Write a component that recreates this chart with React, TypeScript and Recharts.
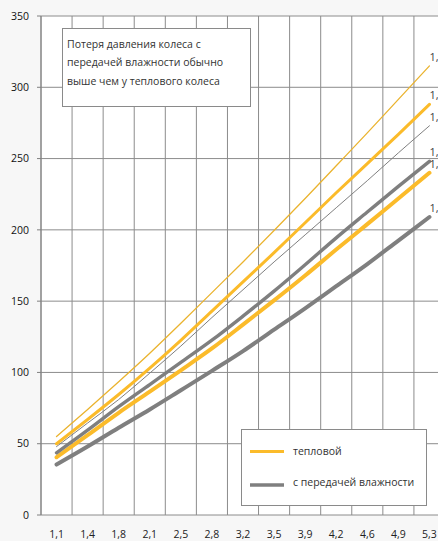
import React from 'react';
import { LineChart, Line, XAxis, YAxis, CartesianGrid } from 'recharts';

// x categories (label shown under each point)
const xLabels = ['1,1', '1,4', '1,8', '2,1', '2,5', '2,8', '3,2', '3,5', '3,9', '4,2', '4,6', '4,9', '5,3'];
const yTicks = [0, 50, 100, 150, 200, 250, 300, 350];

// pressure loss curves
const heatThin = [55, 74, 93.5, 113.5, 134.5, 156, 177.5, 199.5, 222, 245, 268, 291.5, 315];
const heatMain = [50, 67, 84.5, 103, 122.5, 143, 163.5, 184, 205, 226, 246.5, 267, 288];
const moistThin = [48, 64.5, 81, 99.5, 118.5, 138.5, 158, 177.5, 196.5, 215.5, 234.5, 254, 273];
const moistMain = [43.6, 59.5, 76, 91.5, 107, 122.6, 139.5, 157, 175.5, 194.4, 212.5, 230.5, 248];
const heatLow = [40.5, 56, 71.7, 86.5, 101.5, 116.8, 133.5, 150.5, 168, 186.2, 204, 222, 240];
const moistLow = [35.4, 48, 61.2, 74, 87.5, 101.1, 115, 130, 145, 160.5, 176, 192.5, 209];

// labels at the end of each curve (cut by the right edge)
const endLabels = ['1,6', '1,4', '1,3', '1,2', '1,2', '1,0'];

const ORANGE = '#fbbb2a';
const GRAY = '#7f7f7f';
const FONT = '"Open Sans", "DejaVu Sans", sans-serif';

const data = xLabels.map((label, i) => ({
  n: i + 1,
  label,
  heatThin: heatThin[i],
  heatMain: heatMain[i],
  moistThin: moistThin[i],
  moistMain: moistMain[i],
  heatLow: heatLow[i],
  moistLow: moistLow[i],
}));

const posTicks = xLabels.map((_, i) => i + 1);
const gridTicks = [...xLabels.map((_, i) => i + 0.5), xLabels.length + 0.5];
const domain: [number, number] = [0.5, xLabels.length + 0.5];

const series = [
  { key: 'moistLow', color: GRAY, width: 4 },
  { key: 'heatLow', color: ORANGE, width: 4 },
  { key: 'moistMain', color: GRAY, width: 3.4 },
  { key: 'moistThin', color: GRAY, width: 1 },
  { key: 'heatMain', color: ORANGE, width: 3 },
  { key: 'heatThin', color: '#eab32e', width: 1.3 },
];
const endLabelOf: Record<string, string> = {
  heatThin: endLabels[0],
  heatMain: endLabels[1],
  moistThin: endLabels[2],
  moistMain: endLabels[3],
  heatLow: endLabels[4],
  moistLow: endLabels[5],
};

const endLabel = (text: string) => (props: any) => {
  if (props.index !== xLabels.length - 1) return null;
  return (
    <text key={`end-${text}-${props.y}`} x={props.x} y={props.y - 5} fontSize={11} fill="#404040" fontFamily={FONT}>
      {text}
    </text>
  );
};

export default function App() {
  return (
    <div
      style={{
        position: 'absolute',
        left: 0,
        top: 0,
        width: 438,
        height: 541,
        overflow: 'hidden',
        background: '#f7f7f7',
        fontFamily: FONT,
      }}
    >
      <LineChart width={460} height={541} data={data} margin={{ top: 16, right: 15, left: 0, bottom: 0 }}>
        <CartesianGrid xAxisId="g" stroke="#8c8c8c" fill="#ffffff" />
        <XAxis
          xAxisId="g"
          type="number"
          dataKey="n"
          domain={domain}
          ticks={gridTicks}
          tickFormatter={() => ''}
          height={0}
          tickSize={5}
          tickLine={{ stroke: '#a6a6a6' }}
          axisLine={{ stroke: '#808080' }}
          interval={0}
        />
        <XAxis
          xAxisId="l"
          type="number"
          dataKey="n"
          domain={domain}
          ticks={posTicks}
          tickFormatter={(v: number) => xLabels[v - 1]}
          height={26}
          tickSize={0}
          tickMargin={16}
          axisLine={false}
          tickLine={false}
          interval={0}
          tick={{ fontSize: 10.5, fill: '#222', fontFamily: FONT }}
        />
        <YAxis
          type="number"
          domain={[0, 350]}
          ticks={yTicks}
          width={41}
          tickSize={4}
          tickMargin={8}
          axisLine={{ stroke: '#808080' }}
          tickLine={{ stroke: '#808080' }}
          interval={0}
          tick={{ fontSize: 10.5, fill: '#111', fontFamily: FONT }}
        />
        {series.map(s => (
          <Line
            key={s.key}
            xAxisId="l"
            type="monotone"
            dataKey={s.key}
            stroke={s.color}
            strokeWidth={s.width}
            strokeLinecap="round"
            dot={false}
            activeDot={false}
            isAnimationActive={false}
            label={endLabel(endLabelOf[s.key])}
          />
        ))}
      </LineChart>

      <div
        style={{
          position: 'absolute',
          left: 62,
          top: 28,
          width: 183,
          height: 71,
          border: '1px solid #8a8a8a',
          background: '#fff',
          padding: '6px 0 0 4px',
          boxSizing: 'content-box',
          fontSize: 10.5,
          lineHeight: '18.3px',
          color: '#333',
        }}
      >
        Потеря давления колеса с
        <br />
        передачей влажности обычно
        <br />
        выше чем у теплового колеса
      </div>

      <div
        style={{
          position: 'absolute',
          left: 241,
          top: 429,
          width: 184,
          height: 75,
          border: '1px solid #8a8a8a',
          background: '#fff',
          fontSize: 10.5,
          color: '#333',
        }}
      >
        <svg width={40} height={8} style={{ position: 'absolute', left: 7, top: 18 }}>
          <line x1={1} y1={3.5} x2={35} y2={3.5} stroke={ORANGE} strokeWidth={3} />
        </svg>
        <div style={{ position: 'absolute', left: 51, top: 14 }}>тепловой</div>
        <svg width={40} height={8} style={{ position: 'absolute', left: 7, top: 51 }}>
          <line x1={1} y1={4} x2={35} y2={4} stroke={GRAY} strokeWidth={3.5} />
        </svg>
        <div style={{ position: 'absolute', left: 51, top: 45 }}>с передачей влажности</div>
      </div>
    </div>
  );
}
